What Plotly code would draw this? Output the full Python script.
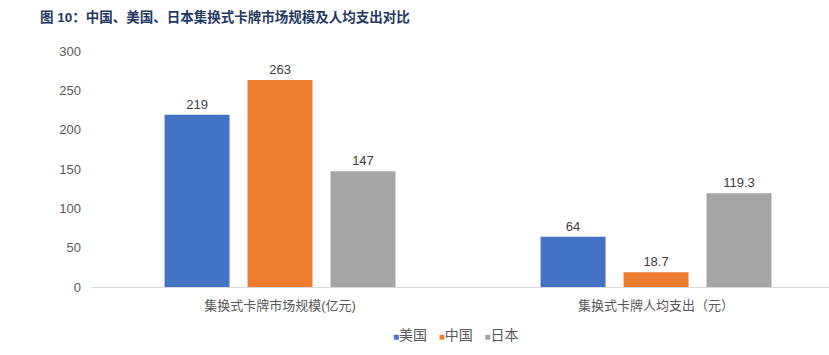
import plotly.graph_objects as go

categories = ["集换式卡牌市场规模(亿元)", "集换式卡牌人均支出（元）"]
series_names = ["美国", "中国", "日本"]
us_values = [219, 64]
cn_values = [263, 18.7]
jp_values = [147, 119.3]
us_labels = ["219", "64"]
cn_labels = ["263", "18.7"]
jp_labels = ["147", "119.3"]
colors = ["#4472C4", "#ED7D31", "#A5A5A5"]
y_ticks = [0, 50, 100, 150, 200, 250, 300]

FONT = "Liberation Sans, Arial, Noto Sans CJK SC"

fig = go.Figure()
for name, vals, labs, col in zip(series_names, [us_values, cn_values, jp_values],
                                 [us_labels, cn_labels, jp_labels], colors):
    fig.add_trace(go.Bar(
        name=name, x=categories, y=vals, text=labs,
        textposition="outside", cliponaxis=False,
        textfont=dict(size=13, color="#404040", family=FONT),
        marker=dict(color=col, line=dict(width=0)),
        showlegend=False,
    ))

legend_text = "&nbsp;&nbsp;&nbsp;".join(
    f'<span style="color:{c};font-size:10px">■</span>{n}' for n, c in zip(series_names, colors)
)
fig.add_annotation(text=legend_text, xref="paper", yref="paper",
                   x=(455 - 92) / 737, y=-48 / 236, xanchor="center", yanchor="middle",
                   showarrow=False, font=dict(size=14, color="#595959", family=FONT))

fig.update_layout(
    width=829, height=355,
    margin=dict(l=92, r=0, t=51, b=68),
    paper_bgcolor="white", plot_bgcolor="white",
    barmode="group", bargap=0.338, bargroupgap=0.217,
    font=dict(family=FONT, size=13, color="#595959"),
    title=dict(text="<b>图 10：中国、美国、日本集换式卡牌市场规模及人均支出对比</b>",
               x=40/829, xanchor="left", xref="container", y=1-17/355, yanchor="middle",
               yref="container",
               font=dict(size=13.5, color="#1F3864", family="Liberation Sans, Noto Sans CJK SC")),
    xaxis=dict(range=[-0.5, 1.46], showline=True, linecolor="#D9D9D9", linewidth=1,
               ticks="", ticklabelstandoff=6, tickfont=dict(size=13, color="#595959"),
               showgrid=False),
    yaxis=dict(range=[0, 300], tickvals=y_ticks, showgrid=False, zeroline=False,
               showline=False, ticks="", ticklabelstandoff=10,
               tickfont=dict(size=13, color="#595959")),
)

fig.write_html("out.html")
